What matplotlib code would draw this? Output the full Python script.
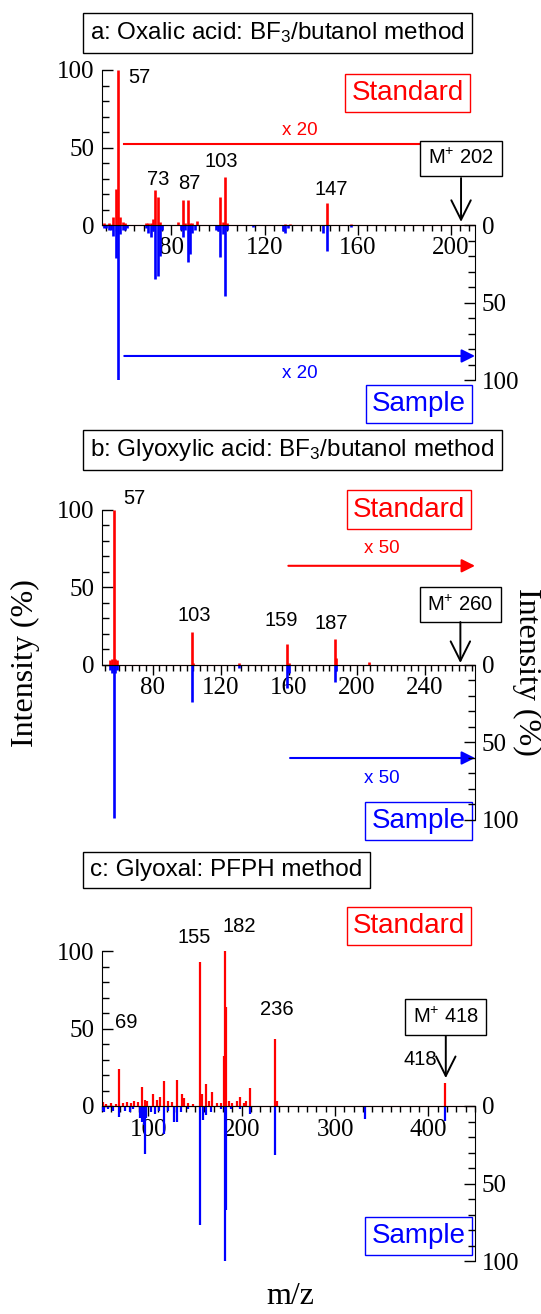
import matplotlib
matplotlib.use('Agg')
import matplotlib.pyplot as plt
from matplotlib.ticker import MultipleLocator, FixedLocator
import numpy as np

plt.rcParams['font.family'] = ['Liberation Sans', 'DejaVu Sans']
plt.rcParams['mathtext.fontset'] = 'custom'
plt.rcParams['mathtext.rm'] = 'Liberation Sans'
plt.rcParams['mathtext.it'] = 'Liberation Sans:italic'

#%% data (displayed heights, %)
# a: oxalic acid
a_std_mz  = [51, 53, 55, 56, 57, 58, 59, 60, 69, 70, 71, 72, 73, 74, 75, 83, 85, 86, 87, 88, 89, 91, 101, 102, 103, 104, 129, 131, 147, 157]
a_std_int = [1, 1.5, 5, 23, 100, 5, 2, 1, 1.5, 1, 1, 4, 22.6, 17.8, 2, 2, 16, 1, 16, 1.5, 1, 2.6, 18, 2, 31, 1.5, 0.8, 0.8, 14, 0.8]
a_smp_mz  = [51, 52, 53, 54, 55, 56, 57, 58, 59, 60, 61, 69, 70, 71, 72, 73, 74, 75, 76, 84, 85, 86, 87, 88, 89, 90, 99, 100, 101, 102, 103, 104, 115, 128, 129, 130, 145, 147, 157]
a_smp_int = [2, 2, 3, 3, 7, 21, 100, 6, 3, 3.5, 2, 2, 5, 7.6, 4, 35, 33, 20, 3, 3, 7.6, 3, 24, 19, 5, 3, 3, 4, 20.5, 6, 46, 3, 1.5, 4, 5.4, 2, 5, 16.5, 1]

# b: glyoxylic acid
b_std_mz  = [55, 56, 57, 58, 59, 103, 104, 131, 159, 160, 187, 188, 207]
b_std_int = [3, 4, 100, 4, 3, 21, 1, 1.5, 13.5, 1, 17, 4.3, 1.7]
b_smp_mz  = [55, 56, 57, 58, 59, 103, 131, 159, 160, 187, 188]
b_smp_int = [3, 5, 99, 5, 3, 24, 2, 15, 5, 11, 4]

# c: glyoxal
c_std_mz  = [51, 55, 60, 65, 69, 73, 77, 81, 85, 89, 93, 96, 99, 105, 109, 113, 117, 121, 125, 131, 136, 138, 143, 148,
             155, 158, 162, 165, 168, 174, 178, 181, 182, 183, 186, 190, 195, 198, 202, 205, 209, 236, 238, 418]
c_std_int = [2.5, 1.5, 2, 1.5, 24, 2, 2.5, 2, 3, 2.5, 12, 4, 3.5, 8, 4, 5.6, 16, 3, 2.5, 16.8, 7.5, 5.4, 2, 1.5,
             92.7, 7.5, 14, 3, 8.8, 2, 2, 32, 100, 64, 3, 2, 3, 6, 2, 3, 11.6, 43, 3, 14.6]
c_smp_mz  = [51, 53, 57, 62, 69, 75, 80, 84, 91, 93, 95, 96, 98, 103, 107, 111, 117, 121, 127, 131, 135, 143,
             155, 159, 162, 167, 178, 182, 183, 189, 198, 209, 236, 332, 418]
c_smp_int = [3, 4, 2, 3, 7, 3, 3.6, 2, 8, 10, 12, 31, 8, 4, 5, 3, 18, 3, 10, 10, 4, 2,
             77, 9, 6, 4, 2, 100, 67, 2, 2, 5, 31.6, 8.4, 9.7]

titles = ['a: Oxalic acid: BF$_3$/butanol method', 'b: Glyoxylic acid: BF$_3$/butanol method', 'c: Glyoxal: PFPH method']
mol_ion = [202, 260, 418]

#%% figure layout (pixels of a 541x1314 canvas)
W, H = 541., 1314.
fig = plt.figure(figsize=(5.41, 13.14), dpi=100)
serif = 'Liberation Serif'
RED, BLUE = '#ff0000', '#0000ff'

def make_axes(top_px, bot_px, xlim, major, minor):
    ax = fig.add_axes([101.7/W, 1-bot_px/H, (475-101.7)/W, (bot_px-top_px)/H])
    ax.set_xlim(*xlim)
    ax.set_ylim(-100, 100)
    ax.spines['top'].set_visible(False)
    ax.spines['right'].set_visible(False)
    ax.spines['bottom'].set_position(('data', 0))
    ax.spines['left'].set_bounds(0, 100)
    ax.xaxis.set_major_locator(MultipleLocator(major))
    ax.xaxis.set_minor_locator(MultipleLocator(minor))
    ax.set_yticks([0, 50, 100])
    ax.yaxis.set_minor_locator(FixedLocator(range(10, 100, 10)))
    ax.tick_params(axis='x', which='major', direction='out', length=7, width=1, pad=2)
    ax.tick_params(axis='x', which='minor', direction='out', length=4, width=1)
    ax.tick_params(axis='y', which='major', direction='in', length=8, width=1, pad=5)
    ax.tick_params(axis='y', which='minor', direction='in', length=5, width=1)
    for lab in ax.get_xticklabels() + ax.get_yticklabels():
        lab.set_fontfamily(serif)
        lab.set_fontsize(18)
    ax2 = ax.twinx()
    ax2.set_ylim(-100, 100)
    for s in ['left', 'top', 'bottom']:
        ax2.spines[s].set_visible(False)
    ax2.spines['right'].set_bounds(-100, 0)
    ax2.set_yticks([-100, -50, 0])
    ax2.set_yticklabels(['100', '50', '0'], fontfamily=serif, fontsize=18)
    ax2.yaxis.set_minor_locator(FixedLocator(range(-90, 0, 10)))
    ax2.tick_params(axis='y', which='major', direction='in', length=8, width=1, pad=5)
    ax2.tick_params(axis='y', which='minor', direction='in', length=5, width=1)
    return ax

def boxed(ax, x, y, s, color, size, pad=0.25):
    ax.text(x, y, s, color=color, fontsize=size, ha='center', va='center', clip_on=False,
            bbox=dict(boxstyle='square,pad=%s' % pad, fc='white', ec=color, lw=1))

def mplus(ax, x, ybox, ytip):
    ax.annotate('', xy=(x, ytip), xytext=(x, ybox), annotation_clip=False,
                arrowprops=dict(arrowstyle='->,head_length=0.7,head_width=0.35', color='black', lw=1.4,
                                mutation_scale=20, shrinkA=0, shrinkB=0))

def spectrum(ax, std_mz, std_int, smp_mz, smp_int, lw):
    ax.vlines(std_mz, 0, std_int, color=RED, lw=lw)
    ax.vlines(smp_mz, 0, -np.array(smp_int), color=BLUE, lw=lw)
    ax.axhline(0, color=RED, lw=0.8, zorder=1)

#%% a
ax = make_axes(70, 380, (50, 210.5), 40, 4)
spectrum(ax, a_std_mz, a_std_int, a_smp_mz, a_smp_int, 1.9)
for s, x, y in [('57', 66.1, 95), ('73', 74.3, 29.5), ('87', 87.7, 27), ('103', 101.6, 41), ('147', 148.5, 22.6)]:
    ax.text(x, y, s, fontsize=14.5, ha='center', va='center')
ax.plot([59.7, 188], [52, 52], color=RED, lw=1.5)
ax.text(135, 61, 'x 20', color=RED, fontsize=13.5, ha='center', va='center')
ax.annotate('', xy=(210.5, -84.5), xytext=(59.7, -84.5), annotation_clip=False,
            arrowprops=dict(arrowstyle='-|>', color=BLUE, lw=1.5, mutation_scale=20, shrinkA=0, shrinkB=0))
ax.text(135, -96, 'x 20', color=BLUE, fontsize=13.5, ha='center', va='center')
boxed(ax, 181.5, 85, 'Standard', RED, 20, 0.22)
boxed(ax, 186.4, -115.5, 'Sample', BLUE, 20, 0.22)
boxed(ax, 204.5, 43, 'M$^{+}$ %d' % mol_ion[0], 'black', 14.5, 0.38)
mplus(ax, 204.5, 30.3, 2)

#%% b
ax = make_axes(510, 820, (50, 269.6), 40, 4)
spectrum(ax, b_std_mz, b_std_int, b_smp_mz, b_smp_int, 1.9)
for s, x, y in [('57', 69, 107.5), ('103', 104.5, 32), ('159', 155.9, 28.6), ('187', 185.3, 26.9)]:
    ax.text(x, y, s, fontsize=14.5, ha='center', va='center', clip_on=False)
ax.annotate('', xy=(269.6, 64), xytext=(159.8, 64), annotation_clip=False,
            arrowprops=dict(arrowstyle='-|>', color=RED, lw=1.5, mutation_scale=20, shrinkA=0, shrinkB=0))
ax.text(214.7, 75, 'x 50', color=RED, fontsize=13.5, ha='center', va='center')
ax.annotate('', xy=(269.6, -60), xytext=(160.8, -60), annotation_clip=False,
            arrowprops=dict(arrowstyle='-|>', color=BLUE, lw=1.5, mutation_scale=20, shrinkA=0, shrinkB=0))
ax.text(214.7, -73.5, 'x 50', color=BLUE, fontsize=13.5, ha='center', va='center')
boxed(ax, 230.8, 100.3, 'Standard', RED, 20, 0.22)
boxed(ax, 236.4, -100.6, 'Sample', BLUE, 20, 0.22)
boxed(ax, 261, 39, 'M$^{+}$ %d' % mol_ion[1], 'black', 14.5, 0.38)
mplus(ax, 261, 27.7, 1.3)

#%% c
ax = make_axes(951, 1261, (50, 450), 100, 10)
spectrum(ax, c_std_mz, c_std_int, c_smp_mz, c_smp_int, 1.6)
for s, x, y in [('69', 76.8, 54), ('155', 149, 109), ('182', 197, 116), ('236', 237.5, 62), ('418', 391.2, 29.7)]:
    ax.text(x, y, s, fontsize=14.5, ha='center', va='center', clip_on=False)
boxed(ax, 379.4, 116, 'Standard', RED, 20, 0.22)
boxed(ax, 389.5, -84, 'Sample', BLUE, 20, 0.22)
boxed(ax, 418.5, 57.4, 'M$^{+}$ %d' % mol_ion[2], 'black', 14.5, 0.38)
mplus(ax, 418.7, 45, 18)

#%% titles and axis labels
for t, (x, y) in zip(titles, [(90, 33), (90, 450), (90, 870)]):
    fig.text(x/W, 1-y/H, t, fontsize=17.5, ha='left', va='center',
             bbox=dict(boxstyle='square,pad=0.3', fc='white', ec='black', lw=1))
fig.text(25/W, 1-663/H, 'Intensity (%)', fontfamily=serif, fontsize=23, rotation=90, ha='center', va='center')
fig.text(527/W, 1-672/H, 'Intensity (%)', fontfamily=serif, fontsize=23, rotation=270, ha='center', va='center')
fig.text(290/W, 1-1296/H, 'm/z', fontfamily=serif, fontsize=23, ha='center', va='center')

fig.savefig('out.png', dpi=100)
